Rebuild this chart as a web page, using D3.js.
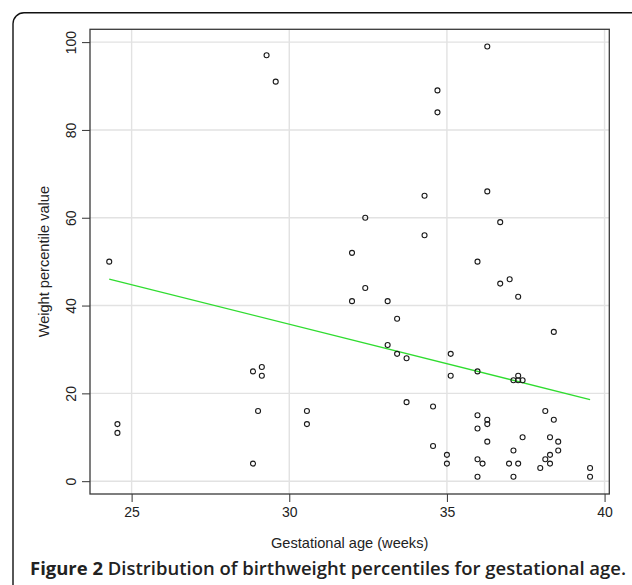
<!DOCTYPE html>
<html>
<head>
<meta charset="utf-8">
<script src="https://cdn.jsdelivr.net/npm/d3@7"></script>
<style>
  body { margin: 0; background: #fff; }
  text { font-family: "Liberation Sans", Arial, sans-serif; }
  .caption { font-family: "Open Sans", "Noto Sans", sans-serif; }
</style>
</head>
<body>
<div id="chart"></div>
<script>
// gestational age (weeks) and weight percentile for each infant
var gestAge = [24.29, 24.55, 24.55, 28.85, 29.13, 29.13, 29.01, 28.85, 29.28, 29.57,
               30.56, 30.56, 31.99, 31.99, 32.41, 32.41, 33.12, 33.12, 33.42, 33.42,
               33.72, 33.72, 34.29, 34.29, 34.56, 34.56, 34.70, 34.70, 35.00, 35.00,
               35.12, 35.12, 35.97, 35.97, 35.97, 35.97, 35.97, 36.13, 35.97, 36.28,
               36.28, 36.28, 36.28, 36.28, 36.69, 36.69, 36.99, 36.97, 37.11, 37.11,
               37.11, 37.26, 37.26, 37.26, 37.26, 37.40, 37.40, 37.96, 38.12, 38.12,
               38.27, 38.27, 38.27, 38.39, 38.39, 38.53, 38.53, 39.54, 39.54];
var weightPct = [50, 13, 11, 25, 26, 24, 16, 4, 97, 91,
                 16, 13, 52, 41, 60, 44, 41, 31, 37, 29,
                 28, 18, 65, 56, 17, 8, 89, 84, 6, 4,
                 29, 24, 50, 25, 15, 12, 5, 4, 1, 99,
                 66, 14, 13, 9, 59, 45, 46, 4, 23, 7,
                 1, 42, 24, 23, 4, 23, 10, 3, 16, 5,
                 10, 6, 4, 34, 14, 9, 7, 3, 1];

// fitted regression line
var fitX = [24.29, 39.54];
var fitY = [46, 18.6];

var xTicks = [25, 30, 35, 40];
var yTicks = [0, 20, 40, 60, 80, 100];

var xLabel = "Gestational age (weeks)";
var yLabel = "Weight percentile value";

function main() {
    var w = 632, h = 585;
    var plot = {left: 90, right: 609.3, top: 29.3, bottom: 494};

    var svg = d3.select("#chart")
                .append("svg")
                .attr("width", w)
                .attr("height", h);

    svg.append("rect")
       .attr("width", w).attr("height", h)
       .attr("fill", "#fff");

    // outer figure frame
    svg.append("rect")
       .attr("x", 13).attr("y", 12.7)
       .attr("width", 630).attr("height", 590)
       .attr("rx", 11)
       .attr("fill", "none")
       .attr("stroke", "#111")
       .attr("stroke-width", 1.4);

    // R style 4% padding around the data range
    var xr = d3.extent(gestAge), yr = d3.extent(weightPct);
    var xPad = (xr[1] - xr[0]) * 0.04, yPad = (yr[1] - yr[0]) * 0.04;

    var x = d3.scaleLinear()
      .domain([xr[0] - xPad, xr[1] + xPad])
      .range([plot.left, plot.right]);
    var y = d3.scaleLinear()
      .domain([yr[0] - yPad, yr[1] + yPad])
      .range([plot.bottom, plot.top]);

    // grid
    var grid = svg.append("g").attr("stroke", "#e2e2e2").attr("stroke-width", 1.4);
    grid.selectAll("line.vx")
      .data(xTicks).enter().append("line")
      .attr("x1", function(d){ return x(d); }).attr("x2", function(d){ return x(d); })
      .attr("y1", plot.top).attr("y2", plot.bottom);
    grid.selectAll("line.hy")
      .data(yTicks).enter().append("line")
      .attr("y1", function(d){ return y(d); }).attr("y2", function(d){ return y(d); })
      .attr("x1", plot.left).attr("x2", plot.right);

    // axes (ticks and labels only, the box is drawn separately)
    var xAxis = svg.append("g")
      .attr("transform", "translate(0," + plot.bottom + ")")
      .call(d3.axisBottom(x).tickValues(xTicks).tickSize(8).tickPadding(5).tickFormat(d3.format("d")));
    xAxis.select(".domain").remove();
    xAxis.selectAll("line").attr("stroke", "#333");
    xAxis.selectAll("text").style("font-size", "14px").attr("fill", "#222")
      .attr("font-family", "Liberation Sans, Arial, sans-serif");

    var yAxis = svg.append("g")
      .attr("transform", "translate(" + plot.left + ",0)")
      .call(d3.axisLeft(y).tickValues(yTicks).tickSize(8).tickFormat(d3.format("d")));
    yAxis.select(".domain").remove();
    yAxis.selectAll("line").attr("stroke", "#333");
    yAxis.selectAll("text")
      .style("font-size", "14px").attr("fill", "#222")
      .attr("font-family", "Liberation Sans, Arial, sans-serif")
      .attr("text-anchor", "middle")
      .attr("dy", null)
      .attr("x", null)
      .attr("transform", "translate(-14,0) rotate(-90)");

    // plot box
    svg.append("rect")
       .attr("x", plot.left).attr("y", plot.top)
       .attr("width", plot.right - plot.left)
       .attr("height", plot.bottom - plot.top)
       .attr("fill", "none")
       .attr("stroke", "#3a3a3a")
       .attr("stroke-width", 1.3);

    // regression line
    svg.append("line")
       .attr("x1", x(fitX[0])).attr("y1", y(fitY[0]))
       .attr("x2", x(fitX[1])).attr("y2", y(fitY[1]))
       .attr("stroke", "#2fdc2f")
       .attr("stroke-width", 1.3);

    // points
    svg.append("g")
      .selectAll("circle")
      .data(gestAge)
      .enter()
      .append("circle")
      .attr("cx", function(d){ return x(d); })
      .attr("cy", function(d, i){ return y(weightPct[i]); })
      .attr("r", 2.5)
      .attr("fill", "none")
      .attr("stroke", "#1a1a1a")
      .attr("stroke-width", 1.1);

    // axis titles
    svg.append("text")
       .attr("x", (plot.left + plot.right) / 2)
       .attr("y", 548)
       .attr("text-anchor", "middle")
       .style("font-size", "14.6px")
       .attr("fill", "#222")
       .text(xLabel);

    svg.append("text")
       .attr("transform", "translate(48.5," + (plot.top + plot.bottom) / 2 + ") rotate(-90)")
       .attr("text-anchor", "middle")
       .style("font-size", "14.6px")
       .attr("fill", "#222")
       .text(yLabel);

    // caption
    var cap = svg.append("text")
       .attr("class", "caption")
       .attr("x", 30)
       .attr("y", 575)
       .attr("textLength", 596)
       .attr("lengthAdjust", "spacingAndGlyphs")
       .style("font-size", "18px")
       .attr("fill", "#222");
    cap.append("tspan").attr("font-weight", 700).text("Figure 2");
    cap.append("tspan").attr("font-weight", 600).text(" Distribution of birthweight percentiles for gestational age.");
}

main();
</script>
</body>
</html>
